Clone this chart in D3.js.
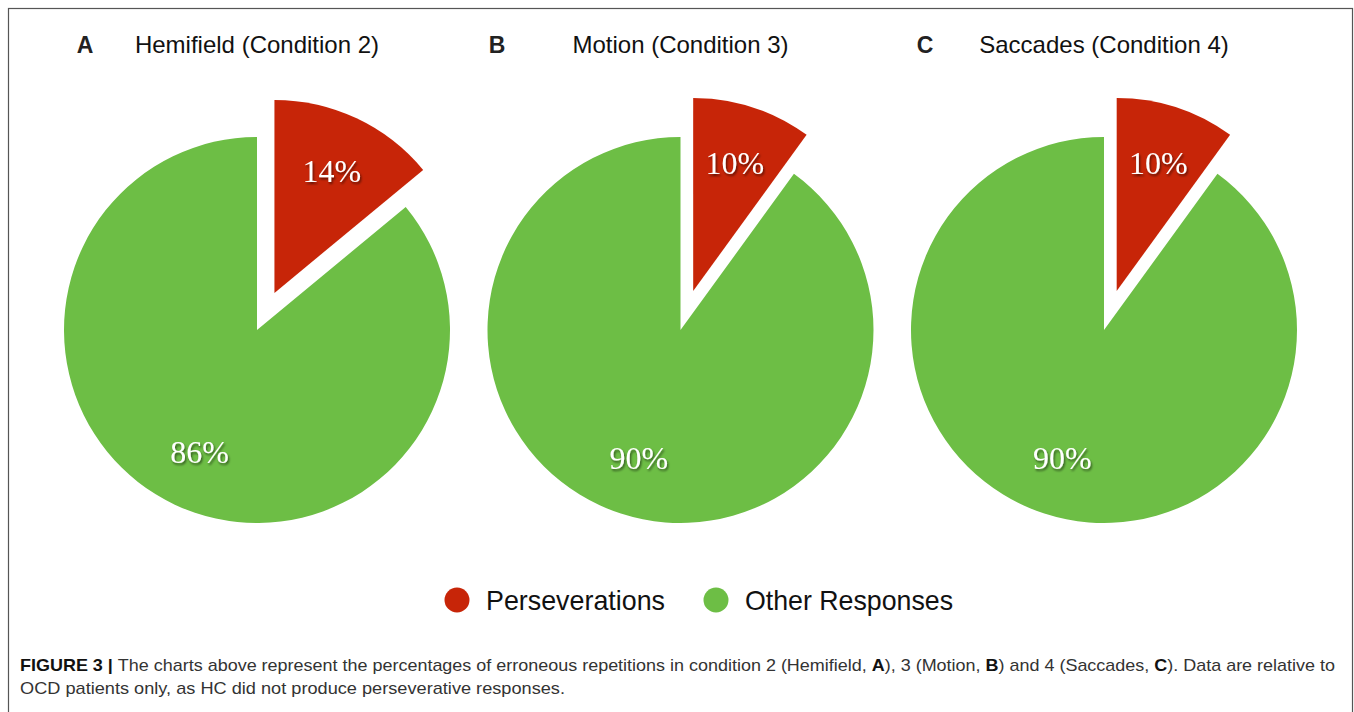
<!DOCTYPE html>
<html>
<head>
<meta charset="utf-8">
<script src="https://cdn.jsdelivr.net/npm/d3@7"></script>
<style>
  html, body { margin: 0; padding: 0; background: #fff; }
  svg { display: block; }
</style>
</head>
<body>
<svg id="fig" width="1354" height="712"></svg>
<script>
// Panel data: share of erroneous repetitions (OCD patients)
const panelLetters = ["A", "B", "C"];
const panelTitles = ["Hemifield (Condition 2)", "Motion (Condition 3)", "Saccades (Condition 4)"];
const categories = ["Perseverations", "Other Responses"];
const perseverations = [14, 10, 10];
const otherResponses = [86, 90, 90];

// Layout
const W = 1354, H = 712;
const radius = 193;
const cy = 330;
const explode = 41;
const labelR = 135;
const letterX = [85, 497, 925];
const colors = d3.scaleOrdinal().domain(categories).range(["#c72508", "#6dbe45"]);
const xScale = d3.scaleLinear().domain([0, 2]).range([257, 1104]);

const svg = d3.select("#fig");

// drop shadow for the percentage labels
const defs = svg.append("defs");
const f = defs.append("filter").attr("id", "shadow")
  .attr("x", "-20%").attr("y", "-20%").attr("width", "140%").attr("height", "160%");
f.append("feDropShadow").attr("dx", 1.2).attr("dy", 2).attr("stdDeviation", 1.2)
  .attr("flood-color", "#000").attr("flood-opacity", 0.55);

// outer frame
svg.append("rect")
  .attr("x", 8.5).attr("y", 8.5).attr("width", W - 1.5 - 8.5).attr("height", H + 20)
  .attr("fill", "none").attr("stroke", "#555").attr("stroke-width", 1.2);

const pie = d3.pie().sort(null).value(d => d.value);
const arc = d3.arc().innerRadius(0).outerRadius(radius);

panelLetters.forEach((letter, i) => {
  const cx = xScale(i);
  const data = [
    { key: categories[0], value: perseverations[i] },
    { key: categories[1], value: otherResponses[i] }
  ];
  const arcs = pie(data);

  const g = svg.append("g").attr("transform", `translate(${cx},${cy})`);

  const slice = g.selectAll("g.slice").data(arcs).join("g")
    .attr("class", "slice")
    .attr("transform", d => {
      if (d.data.key !== categories[0]) return null;
      const mid = (d.startAngle + d.endAngle) / 2;
      return `translate(${explode * Math.sin(mid)},${-explode * Math.cos(mid)})`;
    });

  slice.append("path")
    .attr("d", arc)
    .attr("fill", d => colors(d.data.key));

  slice.append("text")
    .attr("x", d => labelR * Math.sin((d.startAngle + d.endAngle) / 2))
    .attr("y", d => -labelR * Math.cos((d.startAngle + d.endAngle) / 2) + 11)
    .attr("text-anchor", "middle")
    .attr("font-family", "'Liberation Serif', 'DejaVu Serif', serif")
    .attr("font-size", 32)
    .attr("fill", "#fff")
    .attr("filter", "url(#shadow)")
    .text(d => d.data.value + "%");

  // panel heading
  svg.append("text")
    .attr("x", letterX[i]).attr("y", 53)
    .attr("text-anchor", "middle")
    .attr("font-family", "'Liberation Sans', Arial, sans-serif")
    .attr("font-weight", "bold")
    .attr("font-size", 23)
    .attr("fill", "#222")
    .text(letter);

  svg.append("text")
    .attr("x", cx).attr("y", 53)
    .attr("text-anchor", "middle")
    .attr("font-family", "'Liberation Sans', Arial, sans-serif")
    .attr("font-size", 24)
    .attr("fill", "#111")
    .text(panelTitles[i]);
});

// legend
const legendX = [457, 716];
const legendW = [179, 208];
const legend = svg.append("g").selectAll("g").data(categories).join("g")
  .attr("transform", (d, i) => `translate(${legendX[i]},600)`);
legend.append("circle").attr("r", 12.5).attr("fill", d => colors(d));
legend.append("text")
  .attr("x", 29).attr("y", 10)
  .attr("font-family", "'Liberation Sans', Arial, sans-serif")
  .attr("font-size", 28)
  .attr("fill", "#111")
  .attr("textLength", (d, i) => legendW[i])
  .attr("lengthAdjust", "spacingAndGlyphs")
  .text(d => d);

// caption
const cap = svg.append("g")
  .attr("font-family", "'Liberation Sans', Arial, sans-serif")
  .attr("font-size", 17)
  .attr("fill", "#333");
const line1 = cap.append("text").attr("x", 20).attr("y", 671)
  .attr("textLength", 1315).attr("lengthAdjust", "spacingAndGlyphs");
[
  ["FIGURE 3 | ", true],
  ["The charts above represent the percentages of erroneous repetitions in condition 2 (Hemifield, ", false],
  ["A", true], ["), 3 (Motion, ", false], ["B", true], [") and 4 (Saccades, ", false],
  ["C", true], ["). Data are relative to", false]
].forEach(([t, b]) => {
  line1.append("tspan").attr("font-weight", b ? "bold" : "normal")
    .attr("fill", b ? "#111" : "#333").text(t);
});
cap.append("text").attr("x", 20).attr("y", 694)
  .attr("textLength", 545).attr("lengthAdjust", "spacingAndGlyphs")
  .text("OCD patients only, as HC did not produce perseverative responses.");
</script>
</body>
</html>
